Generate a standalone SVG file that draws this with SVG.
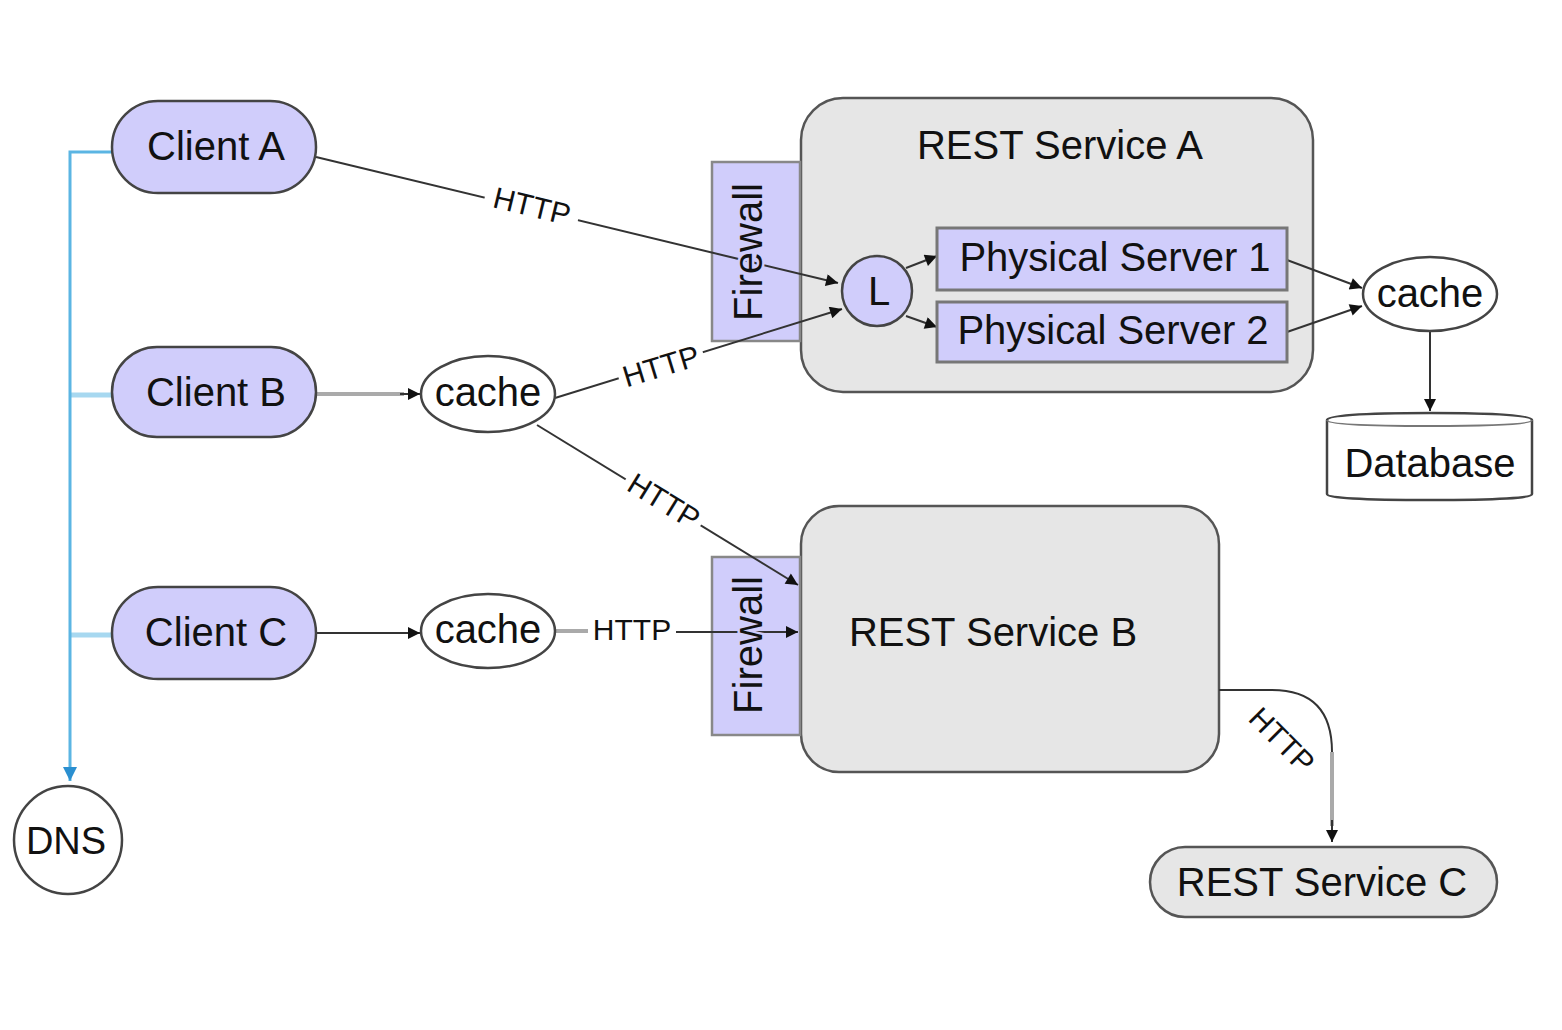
<svg xmlns="http://www.w3.org/2000/svg" width="1562" height="1030" viewBox="0 0 1562 1030">
<defs>
<style>
text{font-family:"Liberation Sans",Arial,sans-serif;fill:#111;}
.lbl{font-size:40px;text-anchor:middle;dominant-baseline:central;}
.http{font-size:30px;text-anchor:middle;dominant-baseline:central;}
.bg{fill:#fff;}
.client{fill:#d0cdfb;stroke:#444;stroke-width:2.5;}
.svc{fill:#e6e6e6;stroke:#555;stroke-width:2.5;}
.fw{fill:#d0cdfb;stroke:#888;stroke-width:2.5;}
.ps{fill:#d0cdfb;stroke:#777;stroke-width:3;}
.plain{fill:#fff;stroke:#444;stroke-width:2.5;}
.ln{fill:none;stroke:#333;stroke-width:2;}
.gray{fill:none;stroke:#aaa;stroke-width:4;}
.blue{fill:none;stroke:#5bb5e3;stroke-width:3;}
.blue2{fill:none;stroke:#a7d8f0;stroke-width:5;}
.fwt{paint-order:stroke;stroke:#d0cdfb;stroke-width:5;}
</style>
<marker id="ah" viewBox="0 0 10 10" refX="10" refY="5" markerWidth="14" markerHeight="12" markerUnits="userSpaceOnUse" orient="auto">
<path d="M0,0 L10,5 L0,10 z" fill="#111"/>
</marker>
<marker id="ahb" viewBox="0 0 10 10" refX="10" refY="5" markerWidth="14" markerHeight="14" markerUnits="userSpaceOnUse" orient="auto">
<path d="M0,0 L10,5 L0,10 z" fill="#2a8fd0"/>
</marker>
</defs>
<rect width="1562" height="1030" fill="#fff"/>

<g id="dns-links">
<path class="blue2" d="M70,395 H112 M70,635 H112"/>
<path class="blue" d="M112,152 H70 V781" marker-end="url(#ahb)"/>
</g>

<g id="rest-a">
<rect class="svc" x="801" y="98" width="512" height="294" rx="42"/>
<text class="lbl" x="1060" y="145">REST Service A</text>
</g>
<g id="firewall-a">
<rect class="fw" x="712" y="162" width="88" height="179"/>
</g>
<g id="rest-b">
<rect class="svc" x="801" y="506" width="418" height="266" rx="38"/>
<text class="lbl" x="993" y="632">REST Service B</text>
</g>
<g id="firewall-b">
<rect class="fw" x="712" y="557" width="88" height="178"/>
</g>

<g id="connectors">
<line class="ln" x1="316" y1="157" x2="838" y2="283" marker-end="url(#ah)"/>
<line class="gray" x1="316" y1="394" x2="404" y2="394"/>
<line class="ln" x1="400" y1="394" x2="420" y2="394" marker-end="url(#ah)"/>
<line class="ln" x1="555" y1="398" x2="842" y2="309" marker-end="url(#ah)"/>
<line class="ln" x1="537" y1="425" x2="798" y2="585" marker-end="url(#ah)"/>
<line class="ln" x1="316" y1="633" x2="420" y2="633" marker-end="url(#ah)"/>
<line class="gray" x1="555" y1="631" x2="590" y2="631"/>
<line class="ln" x1="675" y1="632" x2="798" y2="632" marker-end="url(#ah)"/>
<line class="ln" x1="906" y1="268" x2="937" y2="256" marker-end="url(#ah)"/>
<line class="ln" x1="906" y1="316" x2="937" y2="327" marker-end="url(#ah)"/>
<line class="ln" x1="1287" y1="260" x2="1362" y2="288" marker-end="url(#ah)"/>
<line class="ln" x1="1287" y1="332" x2="1362" y2="306" marker-end="url(#ah)"/>
<line class="ln" x1="1430" y1="331" x2="1430" y2="411" marker-end="url(#ah)"/>
<path class="ln" d="M1219,690 H1272 Q1332,690 1332,752"/>
<line class="gray" x1="1332" y1="752" x2="1332" y2="826"/>
<line class="ln" x1="1332" y1="820" x2="1332" y2="842" marker-end="url(#ah)"/>
<g transform="translate(532,206) rotate(13.6)"><rect class="bg" x="-48" y="-15" width="96" height="30"/><text class="http">HTTP</text></g>
<g transform="translate(661,366) rotate(-17)"><rect class="bg" x="-44" y="-15" width="88" height="30"/><text class="http">HTTP</text></g>
<g transform="translate(664,501) rotate(31.5)"><rect class="bg" x="-44" y="-15" width="88" height="30"/><text class="http">HTTP</text></g>
<rect class="bg" x="588" y="614" width="88" height="30"/>
<text class="http" x="632" y="629">HTTP</text>
<g transform="translate(1282,740) rotate(45)"><text class="http">HTTP</text></g>
</g>

<g id="firewall-a-label">
<text class="lbl fwt" transform="translate(748,252) rotate(-90)">Firewall</text>
</g>
<g id="firewall-b-label">
<text class="lbl fwt" transform="translate(748,645) rotate(-90)">Firewall</text>
</g>

<g id="client-a">
<rect class="client" x="112" y="101" width="204" height="92" rx="46"/>
<text class="lbl" x="216" y="146">Client A</text>
</g>
<g id="client-b">
<rect class="client" x="112" y="347" width="204" height="90" rx="45"/>
<text class="lbl" x="216" y="392">Client B</text>
</g>
<g id="client-c">
<rect class="client" x="112" y="587" width="204" height="92" rx="46"/>
<text class="lbl" x="216" y="632">Client C</text>
</g>
<g id="dns">
<circle class="plain" cx="68" cy="840" r="54"/>
<text class="lbl" x="66" y="841" style="font-size:38px">DNS</text>
</g>
<g id="cache-b">
<ellipse class="plain" cx="488" cy="394" rx="67" ry="38"/>
<text class="lbl" x="488" y="392">cache</text>
</g>
<g id="cache-c">
<ellipse class="plain" cx="488" cy="631" rx="67" ry="37"/>
<text class="lbl" x="488" y="629">cache</text>
</g>
<g id="lb">
<circle class="client" cx="877" cy="291" r="35"/>
<text class="lbl" x="879" y="291">L</text>
</g>
<g id="ps1">
<rect class="ps" x="937" y="228" width="350" height="62"/>
<text class="lbl" x="1115" y="257">Physical Server 1</text>
</g>
<g id="ps2">
<rect class="ps" x="937" y="302" width="350" height="60"/>
<text class="lbl" x="1113" y="330">Physical Server 2</text>
</g>
<g id="cache-a">
<ellipse class="plain" cx="1430" cy="294" rx="67" ry="37"/>
<text class="lbl" x="1430" y="293">cache</text>
</g>
<g id="database">
<path class="plain" d="M1327,420 Q1327,413 1430,413 Q1532,413 1532,420 V494 Q1532,500 1430,500 Q1327,500 1327,494 Z"/>
<path class="ln" style="stroke:#777" d="M1327,420 Q1327,426 1430,426 Q1532,426 1532,420"/>
<text class="lbl" x="1430" y="463">Database</text>
</g>
<g id="rest-c">
<rect class="svc" x="1150" y="847" width="347" height="70" rx="35"/>
<text class="lbl" x="1322" y="882">REST Service C</text>
</g>
</svg>
